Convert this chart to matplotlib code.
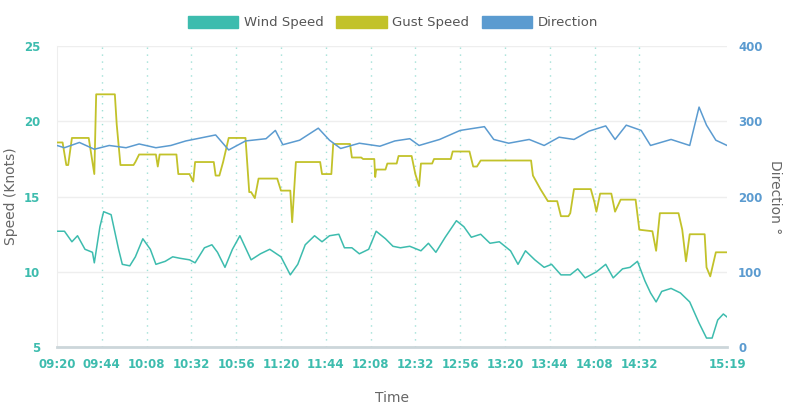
import matplotlib.pyplot as plt
from matplotlib.patches import Patch

# minutes after 09:20
wind_t = [0, 4, 8, 11, 15, 19, 20, 23, 25, 29, 33, 35, 39, 42, 46, 50, 53, 58, 62, 66, 71, 74, 79, 83, 86, 90,
          94, 98, 101, 104, 109, 114, 120, 125, 129, 133, 138, 142, 146, 151, 154, 158, 162, 167, 171, 176, 180,
          184, 189, 195, 199, 203, 208, 214, 218, 222, 227, 232, 237, 243, 247, 251, 256, 261, 265, 270, 275,
          279, 283, 289, 294, 298, 303, 307, 311, 315, 318, 321, 324, 329, 334, 339, 344, 348, 351, 354, 357, 359]
wind_v = [12.7, 12.7, 12.0, 12.4, 11.5, 11.3, 10.6, 13.0, 14.0, 13.8, 11.5, 10.5, 10.4, 11.0, 12.2, 11.5, 10.5,
          10.7, 11.0, 10.9, 10.8, 10.6, 11.6, 11.8, 11.3, 10.3, 11.5, 12.4, 11.6, 10.8, 11.2, 11.5, 11.0, 9.8,
          10.5, 11.8, 12.4, 12.0, 12.4, 12.5, 11.6, 11.6, 11.2, 11.5, 12.7, 12.2, 11.7, 11.6, 11.7, 11.4, 11.9,
          11.3, 12.3, 13.4, 13.0, 12.3, 12.5, 11.9, 12.0, 11.4, 10.5, 11.4, 10.8, 10.3, 10.5, 9.8, 9.8, 10.2,
          9.6, 10.0, 10.5, 9.6, 10.2, 10.3, 10.7, 9.4, 8.6, 8.0, 8.7, 8.9, 8.6, 8.0, 6.6, 5.6, 5.6, 6.8, 7.2, 7.0]

gust_t = [0, 3, 5, 6, 8, 17, 20, 21, 31, 32, 34, 41, 42, 44, 53, 54, 55, 64, 65, 71, 73, 74, 84, 85, 87, 89, 92,
          101, 103, 104, 106, 108, 118, 120, 125, 126, 128, 141, 142, 147, 148, 157, 158, 163, 164, 170, 170.5,
          171, 176, 177, 182, 183, 190, 192, 194, 195, 201, 202, 211, 212, 221, 223, 225, 227, 254, 255, 259,
          263, 268, 270, 274, 275, 277, 286, 288, 289, 291, 297, 299, 302, 310, 312, 319, 321, 323, 333, 335,
          337, 339, 347, 348, 350, 353, 359]
gust_v = [18.6, 18.6, 17.1, 17.1, 18.9, 18.9, 16.5, 21.8, 21.8, 19.8, 17.1, 17.1, 17.3, 17.8, 17.8, 17.0, 17.8,
          17.8, 16.5, 16.5, 16.0, 17.3, 17.3, 16.4, 16.4, 17.3, 18.9, 18.9, 15.3, 15.3, 14.9, 16.2, 16.2, 15.4,
          15.4, 13.3, 17.3, 17.3, 16.5, 16.5, 18.5, 18.5, 17.6, 17.6, 17.5, 17.5, 16.3, 16.8, 16.8, 17.2, 17.2,
          17.7, 17.7, 16.5, 15.7, 17.2, 17.2, 17.5, 17.5, 18.0, 18.0, 17.0, 17.0, 17.4, 17.4, 16.4, 15.5, 14.7,
          14.7, 13.7, 13.7, 13.9, 15.5, 15.5, 14.6, 14.0, 15.2, 15.2, 14.0, 14.8, 14.8, 12.8, 12.7, 11.4, 13.9,
          13.9, 12.8, 10.7, 12.5, 12.5, 10.3, 9.7, 11.3, 11.3]

dir_t = [0, 4, 12, 20, 28, 37, 44, 53, 61, 69, 85, 92, 101, 112, 117, 121, 130, 140, 146, 152, 162, 173, 181,
         189, 194, 205, 216, 229, 234, 242, 253, 261, 269, 277, 285, 294, 299, 305, 313, 318, 329, 339, 344,
         348, 353, 359]
dir_v = [268, 265, 272, 263, 268, 265, 270, 265, 268, 274, 282, 262, 274, 277, 288, 269, 275, 291, 275, 264,
         271, 267, 274, 277, 268, 276, 288, 293, 276, 271, 276, 268, 279, 276, 287, 294, 276, 295, 288, 268,
         276, 268, 319, 295, 275, 268]

tick_t = [0, 24, 48, 72, 96, 120, 144, 168, 192, 216, 240, 264, 288, 312, 359]
tick_lbl = ["09:20", "09:44", "10:08", "10:32", "10:56", "11:20", "11:44", "12:08", "12:32", "12:56",
            "13:20", "13:44", "14:08", "14:32", "15:19"]

c_wind, c_gust, c_dir = "#3dbcae", "#c2c22a", "#5b9bd0"

fig = plt.figure(figsize=(7.86, 4.05), dpi=100)
ax = fig.add_axes([0.0725, 0.143, 0.8525, 0.743])
ax2 = ax.twinx()

ax.plot(wind_t, wind_v, color=c_wind, lw=1.1, zorder=3)
ax.plot(gust_t, gust_v, color=c_gust, lw=1.3, zorder=3)
ax2.plot(dir_t, dir_v, color=c_dir, lw=1.1)

ax.set_xlim(0, 359)
ax.set_ylim(5, 25)
ax2.set_ylim(0, 400)
ax.set_yticks([5, 10, 15, 20, 25])
ax2.set_yticks([0, 100, 200, 300, 400])
ax.set_xticks(tick_t)
ax.set_xticklabels(tick_lbl)
for t in tick_t[1:-1]:
    ax.axvline(t, color="#9fe0d6", ls=(0, (1, 4)), lw=1, zorder=1)
ax.grid(axis="y", color="#eeeeee", lw=1)
ax.set_axisbelow(True)

for a in (ax, ax2):
    for s in a.spines.values():
        s.set_visible(False)
    a.tick_params(length=0, labelsize=8.5)
ax.spines["bottom"].set_visible(True)
ax.spines["bottom"].set_color("#ccd6da")
ax.spines["bottom"].set_linewidth(2)
ax.spines["left"].set_visible(True)
ax.spines["left"].set_color("#eeeeee")
ax.tick_params(axis="y", colors=c_wind, pad=12)
ax.tick_params(axis="x", colors=c_wind, pad=8)
ax2.tick_params(axis="y", colors=c_dir, pad=8)
for lbl in ax.get_xticklabels() + ax.get_yticklabels() + ax2.get_yticklabels():
    lbl.set_fontweight("bold")

ax.set_xlabel("Time", color="#666666", fontsize=10, labelpad=14)
ax.set_ylabel("Speed (Knots)", color="#666666", fontsize=10, labelpad=4)
ax2.set_ylabel("Direction °", color="#666666", fontsize=10, rotation=270, labelpad=14)

handles = [Patch(color=c_wind), Patch(color=c_gust), Patch(color=c_dir)]
fig.legend(handles, ["Wind Speed", "Gust Speed", "Direction"], loc="upper center", ncol=3,
           bbox_to_anchor=(0.5, 0.99), frameon=False, fontsize=9.5, handlelength=3.8, handleheight=1.0,
           columnspacing=1.0, handletextpad=0.4, labelcolor="#555555")

fig.savefig("out.png", dpi=100)
